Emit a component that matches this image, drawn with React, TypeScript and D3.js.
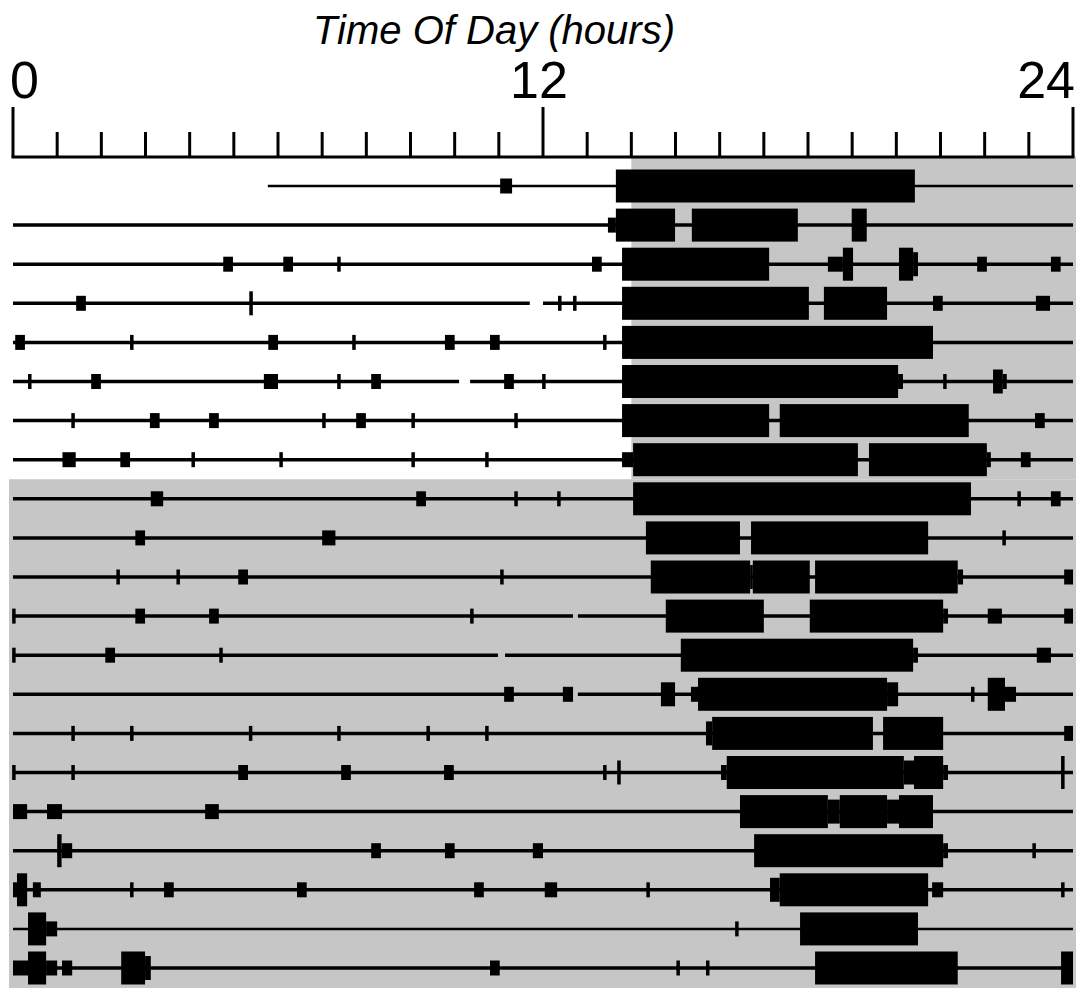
import * as d3 from "d3";

const width = 1081;
const height = 988;

const title = "Time Of Day (hours)";
const hourLabels = [0, 12, 24];
const lightsOff = 14;
const firstDarkDay = 8; // from this day on the lights stay off

// baseline segments for each day, in hours
const dayLines: [number, number][][] = [
  [[5.77, 24]],
  [[0, 24]],
  [[0, 24]],
  [[0, 11.7], [12.0, 24]],
  [[0, 24]],
  [[0, 10.1], [10.35, 24]],
  [[0, 24]],
  [[0, 24]],
  [[0, 24]],
  [[0, 24]],
  [[0, 24]],
  [[0, 12.68], [12.79, 24]],
  [[0, 10.98], [11.14, 24]],
  [[0, 12.68], [12.79, 24]],
  [[0, 24]],
  [[0, 24]],
  [[0, 24]],
  [[0, 24]],
  [[0, 24]],
  [[0, 24]],
  [[0, 24]],
];

// single short counts (hour)
const dayTicks: number[][] = [
  [],
  [],
  [7.38],
  [12.38, 12.72],
  [2.69, 7.72, 13.4],
  [0.38, 7.38, 12.02, 21.1],
  [1.36, 7.04, 9.06, 11.39],
  [4.08, 6.07, 9.06, 10.73],
  [11.39, 12.36, 22.78],
  [22.44],
  [2.38, 3.74, 11.07],
  [0.02, 10.39],
  [0.02, 4.71],
  [21.73],
  [1.36, 2.69, 5.38, 7.38, 9.4, 10.73],
  [0.02, 1.36, 13.4],
  [],
  [23.12],
  [2.69, 14.38, 23.77],
  [16.39],
  [15.06, 15.73],
];

// activity bouts: [start, end, level 1..3]
const dayBouts: [number, number, number][][] = [
  [[11.03, 11.3, 1], [13.65, 20.42, 3]],
  [[13.47, 13.65, 1], [13.65, 14.99, 3], [15.37, 17.77, 3], [18.99, 19.33, 3]],
  [[4.76, 4.98, 1], [6.12, 6.34, 1], [13.11, 13.33, 1], [13.79, 17.12, 3], [18.45, 18.79, 1], [18.79, 19.02, 3], [20.06, 20.38, 3], [20.38, 20.49, 2], [21.83, 22.05, 1], [23.5, 23.72, 1]],
  [[1.43, 1.65, 1], [5.35, 5.43, 2], [13.79, 18.02, 3], [18.36, 19.79, 3], [20.83, 21.05, 1], [23.16, 23.48, 1]],
  [[0.05, 0.27, 1], [5.78, 6.0, 1], [9.78, 10.0, 1], [10.8, 11.02, 1], [13.79, 20.83, 3]],
  [[1.77, 1.99, 1], [5.68, 6.0, 1], [8.11, 8.33, 1], [11.12, 11.34, 1], [13.79, 20.04, 3], [20.04, 20.15, 1], [22.19, 22.41, 2], [22.41, 22.5, 1]],
  [[3.1, 3.32, 1], [4.44, 4.66, 1], [7.77, 7.99, 1], [13.79, 17.12, 3], [17.36, 21.64, 3], [23.14, 23.36, 1]],
  [[1.12, 1.42, 1], [2.43, 2.65, 1], [13.79, 14.04, 1], [14.04, 19.13, 3], [19.38, 22.05, 3], [22.05, 22.14, 1], [22.82, 23.04, 1]],
  [[3.12, 3.4, 1], [9.13, 9.35, 1], [14.04, 21.69, 3], [23.5, 23.72, 1]],
  [[2.77, 2.99, 1], [7.0, 7.3, 1], [14.33, 16.46, 3], [16.71, 20.72, 3]],
  [[5.1, 5.32, 1], [14.44, 16.69, 3], [16.69, 16.75, 2], [16.75, 18.04, 3], [18.16, 21.39, 3], [21.39, 21.51, 1], [23.8, 24, 1]],
  [[2.77, 2.99, 1], [4.44, 4.66, 1], [14.78, 17.0, 3], [18.04, 21.06, 3], [21.06, 21.17, 1], [22.07, 22.39, 1], [23.8, 24, 1]],
  [[2.09, 2.31, 1], [15.12, 20.38, 3], [20.38, 20.49, 1], [23.18, 23.5, 1]],
  [[11.12, 11.34, 1], [12.45, 12.68, 1], [14.67, 14.99, 2], [15.35, 15.51, 1], [15.51, 19.79, 3], [19.79, 20.04, 2], [22.07, 22.46, 3], [22.46, 22.71, 1]],
  [[15.69, 15.83, 2], [15.83, 19.47, 3], [19.7, 21.06, 3], [23.8, 24, 1]],
  [[5.1, 5.32, 1], [7.43, 7.65, 1], [9.76, 9.98, 1], [13.68, 13.76, 2], [16.03, 16.16, 1], [16.16, 20.17, 3], [20.17, 20.4, 2], [20.4, 21.06, 3], [21.06, 21.17, 1], [23.73, 23.81, 3]],
  [[0, 0.32, 1], [0.77, 1.11, 1], [4.35, 4.66, 1], [16.46, 18.45, 3], [18.45, 18.72, 2], [18.72, 19.79, 3], [19.79, 20.06, 2], [20.06, 20.83, 3]],
  [[1.0, 1.1, 3], [1.1, 1.34, 1], [8.11, 8.33, 1], [9.78, 10.0, 1], [11.77, 12.0, 1], [16.78, 21.06, 3], [21.06, 21.17, 1]],
  [[0, 0.09, 1], [0.09, 0.32, 3], [0.45, 0.63, 1], [3.42, 3.64, 1], [6.43, 6.65, 1], [10.44, 10.66, 1], [12.04, 12.32, 1], [17.14, 17.36, 2], [17.36, 20.72, 3], [20.81, 21.06, 1]],
  [[0.34, 0.75, 3], [0.75, 1.0, 1], [17.82, 20.49, 3]],
  [[0, 0.34, 1], [0.34, 0.75, 3], [0.75, 1.0, 1], [1.11, 1.34, 1], [2.45, 2.99, 3], [2.99, 3.12, 2], [10.8, 11.02, 1], [18.16, 21.39, 3], [23.73, 24, 3]],
];

const axisY = 157;
const thinDays = [0, 19];

export default function App() {
  const x = d3.scaleLinear().domain([0, 24]).range([13, 1073]);
  const y = d3.scaleLinear().domain([0, dayLines.length - 1]).range([186, 968]);
  const levelH = d3.scaleOrdinal<number, number>().domain([1, 2, 3]).range([15, 24, 33]);
  const hourTicks = d3.range(0, 25);
  const darkTop = y(firstDarkDay - 0.5);

  return (
    <svg
      width={width}
      height={height}
      style={{ position: "absolute", left: 0, top: 0, background: "#fff" }}
      fontFamily="Liberation Sans, Arial, sans-serif"
    >
      {/* dark phases */}
      <rect x={x(lightsOff)} y={axisY} width={x(24) + 3 - x(lightsOff)} height={darkTop - axisY} fill="#c6c6c6" />
      <rect x={x(0) - 4} y={darkTop} width={x(24) + 7 - x(0)} height={height - darkTop} fill="#c6c6c6" />

      {/* axis */}
      <text x={494} y={44} textAnchor="middle" fontSize={41} fontStyle="italic" textLength={362} lengthAdjust="spacingAndGlyphs">
        {title}
      </text>
      {hourLabels.map((h, i) => (
        <text
          key={h}
          x={x(h) + (i === 0 ? -3 : i === hourLabels.length - 1 ? 2 : -4)}
          y={98}
          fontSize={52}
          textAnchor={i === 0 ? "start" : i === hourLabels.length - 1 ? "end" : "middle"}
        >
          {h}
        </text>
      ))}
      <line x1={x(0) - 1.5} x2={x(24) + 1.5} y1={axisY} y2={axisY} stroke="#000" strokeWidth={3} />
      {hourTicks.map((h) => (
        <line
          key={h}
          x1={x(h)}
          x2={x(h)}
          y1={axisY}
          y2={hourLabels.includes(h) ? 107 : 132}
          stroke="#000"
          strokeWidth={3}
        />
      ))}

      {/* days */}
      {dayLines.map((segs, d) => (
        <g key={d}>
          {segs.map(([s, e], k) => (
            <line
              key={k}
              x1={x(s)}
              x2={x(e)}
              y1={y(d)}
              y2={y(d)}
              stroke="#000"
              strokeWidth={thinDays.includes(d) ? 2.5 : 3.5}
            />
          ))}
          {dayTicks[d].map((t, k) => (
            <rect key={"t" + k} x={x(t) - 1.75} width={3.5} y={y(d) - 7.5} height={15} fill="#000" />
          ))}
          {dayBouts[d].map(([s, e, lv], k) => (
            <rect
              key={"b" + k}
              x={x(s)}
              width={Math.max(2, x(e) - x(s))}
              y={y(d) - levelH(lv) / 2}
              height={levelH(lv)}
              fill="#000"
            />
          ))}
        </g>
      ))}
    </svg>
  );
}
